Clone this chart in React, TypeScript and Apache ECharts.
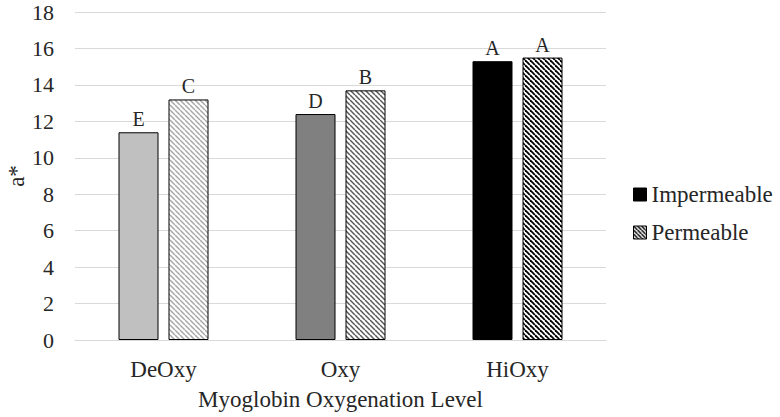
import React, { useEffect, useRef } from "react";
import * as echarts from "echarts";

const categories = ["DeOxy", "Oxy", "HiOxy"];
const impermeable = [11.4, 12.4, 15.3];
const permeable = [13.2, 13.7, 15.5];
const impermeableLetters = ["E", "D", "A"];
const permeableLetters = ["C", "B", "A"];
const yTicks = { min: 0, max: 18, interval: 2 };

const FONT = "Liberation Serif";
const TEXT = "#262626";

function hatch(lineColor: string, size: number, width: number) {
  const c = document.createElement("canvas");
  c.width = size;
  c.height = size;
  const ctx = c.getContext("2d")!;
  ctx.fillStyle = "#ffffff";
  ctx.fillRect(0, 0, size, size);
  ctx.strokeStyle = lineColor;
  ctx.lineWidth = width;
  for (const o of [-size, 0, size]) {
    ctx.beginPath();
    ctx.moveTo(o, 0);
    ctx.lineTo(o + size, size);
    ctx.stroke();
  }
  return { image: c, repeat: "repeat" } as any;
}

export default function App() {
  const ref = useRef<HTMLDivElement>(null);
  useEffect(() => {
    if (!ref.current) return;
    const chart = echarts.init(ref.current, null, { renderer: "svg" });
    const solidColors = ["#c0c0c0", "#808080", "#000000"];
    const hatchColors = [hatch("#a6a6a6", 5, 1.4), hatch("#595959", 5, 1.5), hatch("#000000", 5, 1.8)];
    const legendHatch = hatch("#000000", 4, 1.5);
    chart.setOption({
      animation: false,
      backgroundColor: "#ffffff",
      textStyle: { fontFamily: FONT },
      grid: { left: 75, right: 174, top: 12, bottom: 77, containLabel: false, outerBoundsMode: "none" },
      legend: {
        orient: "vertical",
        left: 628,
        top: 178,
        itemWidth: 13,
        itemHeight: 13,
        itemGap: 15,
        icon: "rect",
        textStyle: { fontFamily: FONT, fontSize: 23, color: TEXT, padding: [0, 0, 0, 0] },
        data: [
          { name: "Impermeable", itemStyle: { color: "#000", borderColor: "#000", borderWidth: 1 } },
          { name: "Permeable", itemStyle: { color: legendHatch, borderColor: "#000", borderWidth: 1 } },
        ],
      },
      xAxis: {
        type: "category",
        data: categories,
        name: "Myoglobin Oxygenation Level",
        nameLocation: "middle",
        nameGap: 48,
        nameMoveOverlap: false,
        nameTextStyle: { fontFamily: FONT, fontSize: 23, color: TEXT },
        axisLine: { show: true, lineStyle: { color: "#d9d9d9", width: 1 } },
        axisTick: { show: false },
        axisLabel: { fontFamily: FONT, fontSize: 23, color: TEXT, margin: 18 },
      },
      yAxis: {
        type: "value",
        min: yTicks.min,
        max: yTicks.max,
        interval: yTicks.interval,
        name: "a*",
        nameLocation: "middle",
        nameGap: 47,
        nameMoveOverlap: false,
        nameRotate: 90,
        nameTextStyle: { fontFamily: FONT, fontSize: 23, color: TEXT },
        axisLine: { show: false },
        axisTick: { show: false },
        axisLabel: { fontFamily: FONT, fontSize: 22, color: TEXT, margin: 21 },
        splitLine: { lineStyle: { color: "#d9d9d9", width: 1 } },
      },
      series: [
        {
          name: "Impermeable",
          type: "bar",
          barWidth: 40,
          barGap: "25%",
          itemStyle: { color: "#000", borderColor: "#000", borderWidth: 1 },
          label: {
            show: true,
            position: "top",
            distance: 3,
            fontFamily: FONT,
            fontSize: 20,
            color: TEXT,
            formatter: (p: any) => impermeableLetters[p.dataIndex],
          },
          data: impermeable.map((v, i) => ({
            value: v,
            itemStyle: { color: solidColors[i], borderColor: "#000", borderWidth: 1 },
          })),
        },
        {
          name: "Permeable",
          type: "bar",
          barWidth: 40,
          itemStyle: { color: legendHatch, borderColor: "#000", borderWidth: 1 },
          label: {
            show: true,
            position: "top",
            distance: 3,
            fontFamily: FONT,
            fontSize: 20,
            color: TEXT,
            formatter: (p: any) => permeableLetters[p.dataIndex],
          },
          data: permeable.map((v, i) => ({
            value: v,
            itemStyle: { color: hatchColors[i], borderColor: "#000", borderWidth: 1 },
          })),
        },
      ],
    });
    return () => chart.dispose();
  }, []);
  return (
    <div
      ref={ref}
      style={{ position: "absolute", left: 0, top: 0, width: 780, height: 417 }}
    />
  );
}
